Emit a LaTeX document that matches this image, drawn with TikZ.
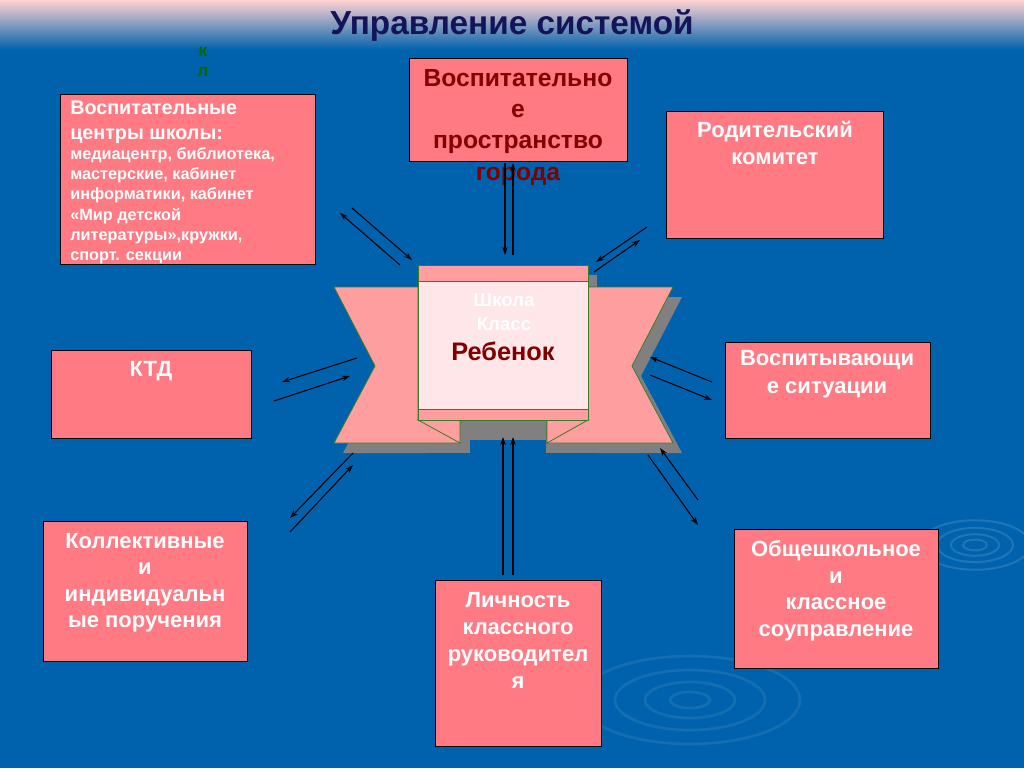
\documentclass[tikz,border=0pt]{standalone}
\usepackage{fontspec}
\setmainfont{Liberation Sans}
\definecolor{bg}{HTML}{0062AC}
\definecolor{boxc}{HTML}{FF7A82}
\definecolor{wing}{HTML}{FF9E9E}
\definecolor{inner}{HTML}{FFE6E8}
\definecolor{dred}{HTML}{800000}
\definecolor{navy}{HTML}{14145A}
\definecolor{edge}{HTML}{3A7A2A}
\tikzset{
 bx/.style={draw=black,fill=boxc,line width=0.6pt},
 wt/.style={text=white,font=\bfseries,align=center,inner sep=0pt,anchor=north},
 ar/.style={-{Stealth[length=6pt,width=4pt]},line width=0.8pt,black},
 rib/.style={fill=wing,draw=edge,line width=0.6pt},
}
\usetikzlibrary{arrows.meta}
\begin{document}
\begin{tikzpicture}[x=0.75pt,y=-0.75pt]
\useasboundingbox (0,0) rectangle (1024,768);
\fill[bg] (0,0) rectangle (1024,768);
\shade[top color=pink!70!white,bottom color=bg] (0,0) rectangle (1024,50);
\foreach \r in {12,24,38,55}{\draw[white,opacity=0.12,line width=1.5pt] (975,545) ellipse ({\r} and {\r*0.45});}
\foreach \r in {20,45,75,110}{\draw[white,opacity=0.08,line width=2pt] (690,700) ellipse ({\r} and {\r*0.4});}
\node[text=navy,font=\bfseries\fontsize{25}{29}\selectfont] (title) at (512,26) {Управление системой};
\node[text=black!60!green,font=\bfseries\fontsize{13}{15}\selectfont,align=center,anchor=north,inner sep=0pt] (kl) at (203,47) {к\\л};
% boxes
\draw[bx] (60,94) rectangle (315,264);
\node[wt,anchor=north west,align=left,font=\bfseries\fontsize{12.2}{15.2}\selectfont] (a) at (70,101) {{\fontsize{14.8}{18}\selectfont Воспитательные}\\[3pt]{\fontsize{14.8}{18}\selectfont центры школы:}\\медиацентр, библиотека,\\мастерские, кабинет\\информатики, кабинет\\«Мир детской\\литературы»,кружки,\\спорт. секции};
\draw[bx] (409,58) rectangle (627,161);
\node[wt,text=dred,font=\bfseries\fontsize{18.5}{23.5}\selectfont] (b) at (518,69) {Воспитательно\\е\\пространство\\города};
\draw[bx] (666,111) rectangle (883,238);
\node[wt,font=\bfseries\fontsize{16.5}{20.5}\selectfont] (c) at (775,121) {Родительский\\комитет};
\draw[bx] (51,350) rectangle (251,438);
\node[wt,font=\bfseries\fontsize{16.5}{20.5}\selectfont] (d) at (151,361) {КТД};
\draw[bx] (725,342) rectangle (930,438);
\node[wt,font=\bfseries\fontsize{16.5}{21}\selectfont] (e) at (827,350) {Воспитывающи\\е ситуации};
\draw[bx] (43,521) rectangle (247,661);
\node[wt,font=\bfseries\fontsize{16.5}{19.8}\selectfont] (f) at (145,533) {Коллективные\\и\\индивидуальн\\ые поручения};
\draw[bx] (435,580) rectangle (601,746);
\node[wt,font=\bfseries\fontsize{16.5}{20.3}\selectfont] (g) at (518,592) {Личность\\классного\\руководител\\я};
\draw[bx] (734,529) rectangle (938,668);
\node[wt,font=\bfseries\fontsize{16.5}{20}\selectfont] (h) at (836,540) {Общешкольное\\и\\ классное\\соуправление};
% ribbon shadow
\begin{scope}[shift={(9,10)}]
\fill[gray] (334,287)--(418,287)--(418,443)--(334,443)--(375,366)--cycle;
\fill[gray] (673,287)--(588,287)--(588,443)--(673,443)--(632,366)--cycle;
\fill[gray] (418,265) rectangle (588,443);
\end{scope}
\fill[bg] (470,440) rectangle (546,470);
% ribbon
\draw[rib] (418,287)--(334,287)--(375,366)--(334,443)--(460,443)--(460,420)--(418,420)--cycle;
\draw[rib] (588,287)--(673,287)--(632,366)--(673,443)--(547,443)--(547,420)--(588,420)--cycle;
\draw[rib] (418,420)--(460,420)--(460,443)--cycle;
\draw[rib] (588,420)--(547,420)--(547,443)--cycle;
\draw[rib] (418,265) rectangle (588,420);
\draw[fill=inner,draw=edge,line width=0.6pt] (418,281) rectangle (588,409);
\node[text=white,font=\bfseries\fontsize{14}{18}\selectfont,align=center,inner sep=0pt] (sk) at (504,312) {Школа\\Класс};
\node[text=dred,font=\bfseries\fontsize{19}{22}\selectfont,inner sep=0pt] (reb) at (503,351) {Ребенок};
% arrows
\coordinate (p1a) at (340,213); \coordinate (p1b) at (400,265);
\coordinate (p2a) at (352,208); \coordinate (p2b) at (412,260);
\draw[ar] (p1b)--(p1a); \draw[ar] (p2a)--(p2b);
\coordinate (t1a) at (505,163); \coordinate (t1b) at (505,255);
\coordinate (t2a) at (513,163); \coordinate (t2b) at (513,255);
\draw[ar] (t1a)--(t1b); \draw[ar] (t2b)--(t2a);
\coordinate (q1a) at (647,227); \coordinate (q1b) at (596,262);
\coordinate (q2a) at (640,240); \coordinate (q2b) at (594,272);
\draw[ar] (q1a)--(q1b); \draw[ar] (q2b)--(q2a);
\coordinate (l1a) at (357,358); \coordinate (l1b) at (282,382);
\coordinate (l2a) at (274,401); \coordinate (l2b) at (350,376);
\draw[ar] (l1a)--(l1b); \draw[ar] (l2a)--(l2b);
\coordinate (r1a) at (712,382); \coordinate (r1b) at (650,357);
\coordinate (r2a) at (650,375); \coordinate (r2b) at (712,400);
\draw[ar] (r1a)--(r1b); \draw[ar] (r2a)--(r2b);
\coordinate (s1a) at (353,453); \coordinate (s1b) at (290,518);
\coordinate (s2a) at (290,532); \coordinate (s2b) at (353,465);
\draw[ar] (s1a)--(s1b); \draw[ar] (s2a)--(s2b);
\coordinate (u1a) at (503,437); \coordinate (u1b) at (503,575);
\coordinate (u2a) at (513,575); \coordinate (u2b) at (513,437);
\draw[ar] (u1b)--(u1a); \draw[ar] (u2a)--(u2b);
\coordinate (v1a) at (648,455); \coordinate (v1b) at (698,525);
\coordinate (v2a) at (698,500); \coordinate (v2b) at (660,448);
\draw[ar] (v1a)--(v1b); \draw[ar] (v2a)--(v2b);
\end{tikzpicture}
\end{document}
